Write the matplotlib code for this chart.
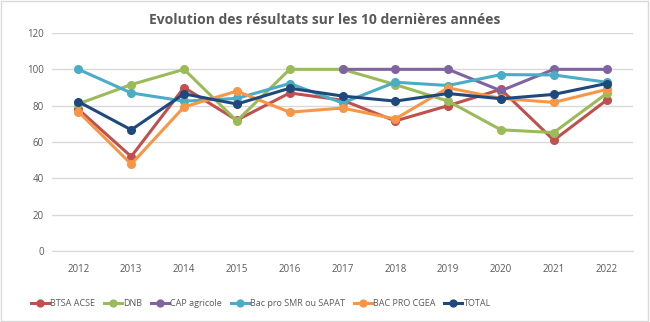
import matplotlib.pyplot as plt
from matplotlib.patches import Rectangle

years = ["2012", "2013", "2014", "2015", "2016", "2017", "2018", "2019", "2020", "2021", "2022"]
btsa = [78, 52, 90, 72, 87, 83, 71.6, 80, 89, 61, 83]
dnb = [81, 91.6, 100, 71.6, 100, 100, 91.6, 82.5, 66.7, 65.2, 86.7]
cap = [None, None, None, None, None, 100, 100, 100, 88.2, 100, 100]
smr = [100, 87, 82.5, 84, 92.2, 81.5, 92.9, 91.1, 97.1, 96.9, 92.9]
cgea = [76.7, 47.8, 79.3, 88, 76.4, 78.7, 72.7, 89.8, 84, 81.8, 88.9]
total = [82.2, 66.7, 86.5, 80.9, 89.6, 85.3, 82.5, 86.7, 83.8, 86.2, 92.2]

series = [
    ("BTSA ACSE", btsa, "#C0504D"),
    ("DNB", dnb, "#9BBB59"),
    ("CAP agricole", cap, "#8064A2"),
    ("Bac pro SMR ou SAPAT", smr, "#4BACC6"),
    ("BAC PRO CGEA", cgea, "#F79646"),
    ("TOTAL", total, "#1F497D"),
]

plt.rcParams["font.family"] = ["Open Sans", "DejaVu Sans"]

fig = plt.figure(figsize=(6.5, 3.22), dpi=100)
ax = fig.add_axes([52 / 650, 1 - 251 / 322, 581 / 650, 218 / 322])

x = list(range(len(years)))
for name, vals, col in series:
    xs = [i for i, v in zip(x, vals) if v is not None]
    ys = [v for v in vals if v is not None]
    ax.plot(xs, ys, color=col, lw=2.2, marker="o", ms=5.5, label=name)

ax.set_xlim(-0.5, 10.5)
ax.set_ylim(0, 120)
ax.set_yticks(range(0, 121, 20))
ax.set_xticks(x)
ax.set_xticklabels(years)
ax.grid(axis="y", color="#D9D9D9", lw=1)
ax.set_axisbelow(True)
for s in ["top", "right", "left"]:
    ax.spines[s].set_visible(False)
ax.spines["bottom"].set_color("#D9D9D9")
ax.tick_params(length=0, labelsize=7, colors="#595959", pad=6)
ax.tick_params(axis="x", pad=9)

fig.text(0.5, 1 - 20 / 322, "Evolution des résultats sur les 10 dernières années",
         ha="center", va="center", fontsize=10, fontweight="bold", color="#595959")

fig.legend(loc="center", bbox_to_anchor=(261 / 650, 1 - 304 / 322), ncol=6, frameon=False,
           fontsize=6.5, labelcolor="#595959", handlelength=2.0, columnspacing=0.95,
           handletextpad=0.15, markerscale=0.9)

fig.patches.append(Rectangle((0.002, 0.003), 0.995, 0.993, transform=fig.transFigure,
                             fill=False, edgecolor="#D9D9D9", lw=1))

fig.savefig("out.png", dpi=100)
